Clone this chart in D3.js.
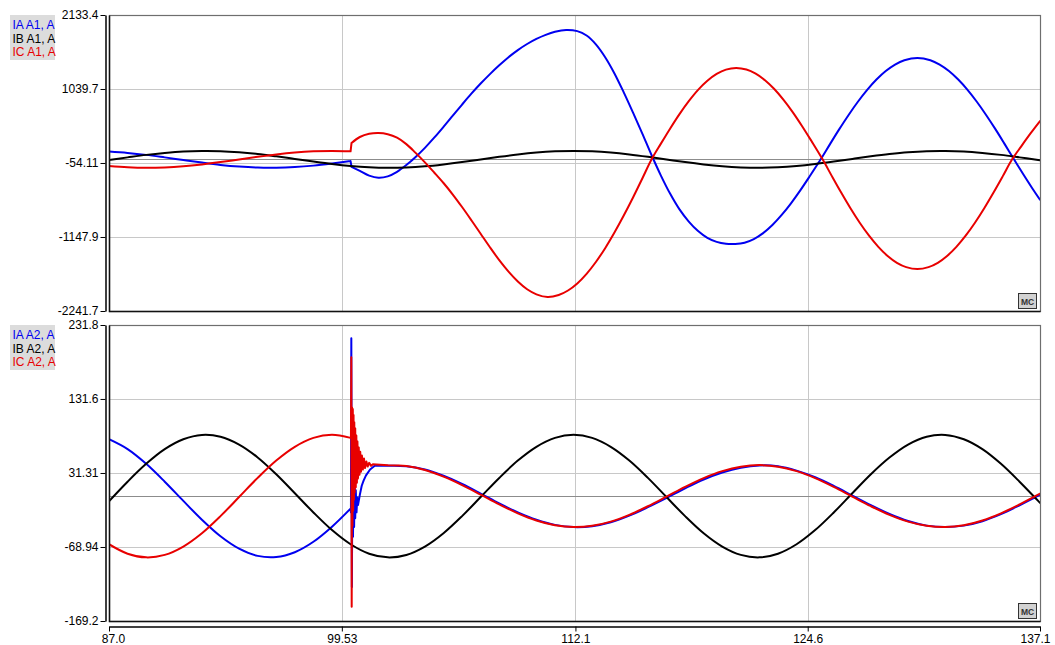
<!DOCTYPE html>
<html>
<head>
<meta charset="utf-8">
<script src="https://cdn.jsdelivr.net/npm/d3@7"></script>
<style>
  body { margin: 0; background: #fff; }
  svg text { font-family: "Liberation Sans", Arial, sans-serif; }
</style>
</head>
<body>
<svg id="chart" width="1055" height="645"></svg>
<script>
// ---- axis ticks ----
var xTicks = [87.0, 99.53, 112.1, 124.6, 137.1];
var xTickLabels = ["87.0", "99.53", "112.1", "124.6", "137.1"];
var yTicksA1 = [2133.4, 1039.7, -54.11, -1147.9, -2241.7];
var yTickLabelsA1 = ["2133.4", "1039.7", "-54.11", "-1147.9", "-2241.7"];
var yTicksA2 = [231.8, 131.6, 31.31, -68.94, -169.2];
var yTickLabelsA2 = ["231.8", "131.6", "31.31", "-68.94", "-169.2"];
var legendA1 = ["IA A1, A", "IB A1, A", "IC A1, A"];
var legendA2 = ["IA A2, A", "IB A2, A", "IC A2, A"];

// ---- A1 currents [ms, A] ----
var iaA1Pre = [[87,116],[88,95],[89,66],[90,29],[91,-10],[92,-48],[93,-82],[94,-107],[95,-122],[96,-124],[97,-114],[98,-93],[99,-62],[100,-26]];
var iaA1Post = [[100.05,-110],[100.5,-170],[101,-240],[101.5,-272],[102,-252],[102.5,-185],[103,-85],[103.5,35],[104,170],[104.5,320],[105,480],[105.5,645],[106,810],[106.5,970],[107,1120],[107.5,1260],[108,1390],[108.5,1510],[109,1615],[109.5,1705],[110,1780],[110.5,1840],[111,1885],[111.6,1912],[112.2,1895],[112.7,1830],[113.2,1700],[113.7,1510],[114.2,1270],[114.7,990],[115.2,690],[115.7,380],[116.2,60],[116.7,-240],[117.2,-510],[117.7,-740],[118.2,-920],[118.7,-1060],[119.2,-1160],[119.7,-1220],[120.2,-1248],[120.7,-1251],[121.2,-1233],[121.7,-1179],[122.2,-1091],[122.7,-971],[123.2,-822],[123.7,-650],[124.2,-459],[124.7,-254],[125.3,0],[125.8,225],[126.3,446],[126.8,656],[127.3,851],[127.8,1027],[128.3,1179],[128.8,1305],[129.3,1401],[129.8,1464],[130.5,1498],[131.2,1465],[131.7,1400],[132.2,1305],[132.7,1179],[133.2,1027],[133.7,851],[134.2,656],[134.7,446],[135.2,225],[135.7,0],[136.2,-220],[136.7,-434],[137.1,-597]];
var ibA1 = [[87,-10],[88,29],[89,66],[90,95],[91,116],[92,124],[93,121],[94,105],[95,79],[96,44],[97,6],[98,-33],[99,-69],[100,-98],[101,-117],[102,-125],[103,-120],[104,-103],[105,-75],[106,-41],[107,-2],[108,37],[109,72],[110,100],[111,118],[112,125],[113,118],[114,100],[115,72],[116,37],[117,-2],[118,-41],[119,-75],[120,-102],[121,-119],[122,-125],[123,-117],[124,-98],[125,-69],[126,-33],[127,6],[128,44],[129,78],[130,105],[131,121],[132,124],[133,116],[134,95],[135,66],[136,29],[137,-10],[137.1,-14]];
var icA1Pre = [[87,-98],[88,-117],[89,-125],[90,-119],[91,-102],[92,-75],[93,-41],[94,-2],[95,37],[96,72],[97,100],[98,118],[99,125],[100,118]];
var icA1Post = [[100.05,240],[100.5,330],[101,378],[101.5,390],[102,372],[102.5,320],[103,225],[103.5,95],[104,-45],[104.5,-195],[105,-350],[105.5,-520],[106,-705],[106.5,-900],[107,-1100],[107.5,-1300],[108,-1490],[108.5,-1660],[109,-1805],[109.5,-1920],[110,-1995],[110.6,-2035],[111.2,-2006],[111.7,-1939],[112.2,-1834],[112.7,-1692],[113.2,-1517],[113.7,-1313],[114.2,-1082],[114.7,-831],[115.2,-564],[115.7,-283],[116.2,0],[116.7,232],[117.2,457],[117.7,669],[118.2,860],[118.7,1027],[119.2,1161],[119.7,1262],[120.2,1326],[120.75,1350],[121.3,1327],[121.8,1266],[122.3,1169],[122.8,1039],[123.3,879],[123.8,695],[124.3,490],[124.8,271],[125.4,0],[125.9,-248],[126.4,-491],[126.9,-723],[127.4,-937],[127.9,-1128],[128.4,-1293],[128.9,-1428],[129.4,-1529],[129.9,-1593],[130.5,-1621],[131.1,-1593],[131.6,-1529],[132.1,-1428],[132.6,-1293],[133.1,-1128],[133.6,-937],[134.1,-723],[134.6,-491],[135.1,-248],[135.6,0],[136.1,196],[136.6,386],[137.1,565]];

// ---- A2 currents [ms, A] ----
var iaA2Pre = [[87,77],[88,63.6],[89,43.7],[90,19.5],[91,-6.5],[92,-32],[93,-54.4],[94,-71.2],[95,-81],[96,-82.6],[97,-76],[98,-61.9],[99,-41.5],[100,-17]];
var iaA2Spike = [[100.02,-22],[100.04,214],[100.07,-123],[100.10,38],[100.13,-55],[100.16,28],[100.19,-42],[100.22,18],[100.25,-30],[100.28,8],[100.32,-22],[100.36,-2],[100.40,-12],[100.5,2],[100.6,14],[100.7,21],[100.83,28],[101.05,36],[101.3,41]];
var iaA2Post = [[102,41],[103,40.5],[104,36],[105,27.5],[106,16.5],[107,3.5],[108,-10],[109,-22],[110,-32],[111,-39],[112,-42],[113,-40.8],[114,-35.5],[115,-26.5],[116,-15],[117,-2.5],[118,10.5],[119,22.5],[120,32],[121,38.5],[122,41.5],[123,40.5],[124,34.5],[125,25.5],[126,13.8],[127,0.8],[128,-12.2],[129,-24.2],[130,-33.8],[131,-40],[132,-42],[133,-40],[134,-34],[135,-24.5],[136,-12.5],[137,0.5],[137.1,2]];
var ibA2 = [[87,-7],[88,19.5],[89,43.7],[90,63.6],[91,77],[92,82.8],[93,80.4],[94,69.8],[95,52.4],[96,29.6],[97,3.9],[98,-22.1],[99,-46],[100,-65.2],[101,-78],[102,-83],[103,-79.7],[104,-68.4],[105,-50.3],[106,-27.1],[107,-1.3],[108,24.6],[109,48.1],[110,66.8],[111,78.9],[112,83],[113,78.9],[114,66.8],[115,48.2],[116,24.7],[117,-1.3],[118,-27.1],[119,-50.3],[120,-68.3],[121,-79.6],[122,-83],[123,-78],[124,-65.2],[125,-46],[126,-22.2],[127,3.9],[128,29.6],[129,52.2],[130,69.8],[131,80.4],[132,82.8],[133,77],[134,63.6],[135,43.7],[136,19.5],[137,-6.5],[137.1,-9.1]];
var icA2Pre = [[87,-65.2],[88,-78],[89,-83],[90,-79.6],[91,-68.3],[92,-50.3],[93,-27.1],[94,-1.3],[95,24.7],[96,48.2],[97,66.8],[98,78.9],[99,83],[100,78.9]];
var icA2Spike = [[100.02,80],[100.04,188],[100.06,-150],[100.08,120],[100.10,-40],[100.12,118],[100.14,-20],[100.16,110],[100.18,-5],[100.20,100],[100.22,5],[100.25,92],[100.28,12],[100.31,82],[100.34,18],[100.37,74],[100.40,24],[100.44,66],[100.48,29],[100.52,60],[100.56,33],[100.61,55],[100.66,36],[100.72,51],[100.78,38],[100.85,47],[100.92,40],[101.0,45],[101.1,41],[101.2,43]];
var icA2Post = [[102,41.9],[103,40.7],[104,35.3],[105,26.4],[106,15],[107,2],[108,-11.2],[109,-23.3],[110,-33],[111,-39.5],[112,-42],[113,-40.3],[114,-34.6],[115,-25.4],[116,-13.7],[117,-0.7],[118,12.5],[119,24.4],[120,33.8],[121,39.9],[122,42],[123,39.9],[124,33.8],[125,24.4],[126,12.5],[127,-0.7],[128,-13.7],[129,-25.4],[130,-34.6],[131,-40.3],[132,-42],[133,-39.5],[134,-33],[135,-23.3],[136,-11.2],[137,2],[137.1,3.3]];

var blue = "#0000f0", red = "#e80000", black = "#000";
var legendColors = [blue, black, red];

var svg = d3.select("#chart");
var x = d3.scaleLinear().domain([87.0, 137.1]).range([109, 1040]);

var panels = [
  {top: 15, bottom: 311, domain: [-2241.7, 2133.4], ticks: yTicksA1, labels: yTickLabelsA1, legend: legendA1,
   series: [{pre: iaA1Pre, post: iaA1Post, color: blue},
            {full: ibA1, color: black},
            {pre: icA1Pre, post: icA1Post, color: red}]},
  {top: 325, bottom: 621, domain: [-169.2, 231.8], ticks: yTicksA2, labels: yTickLabelsA2, legend: legendA2,
   series: [{pre: iaA2Pre, spike: iaA2Spike, post: iaA2Post, color: blue},
            {full: ibA2, color: black},
            {pre: icA2Pre, spike: icA2Spike, post: icA2Post, color: red}]}
];

panels.forEach(function(p, pi) {
  var y = d3.scaleLinear().domain(p.domain).range([p.bottom, p.top]);
  var g = svg.append("g");
  var left = x.range()[0], right = x.range()[1];

  // grid
  g.append("g").selectAll("line")
    .data(p.ticks.slice(1, -1)).enter().append("line")
    .attr("x1", left).attr("x2", right)
    .attr("y1", d => Math.round(y(d)) + 0.5).attr("y2", d => Math.round(y(d)) + 0.5)
    .attr("stroke", "#c8c8c8");
  g.append("g").selectAll("line")
    .data(xTicks.slice(1, -1)).enter().append("line")
    .attr("x1", d => Math.round(x(d)) + 0.5).attr("x2", d => Math.round(x(d)) + 0.5)
    .attr("y1", p.top).attr("y2", p.bottom)
    .attr("stroke", "#c8c8c8");
  // zero line
  g.append("line")
    .attr("x1", left).attr("x2", right)
    .attr("y1", Math.round(y(0)) + 0.5).attr("y2", Math.round(y(0)) + 0.5)
    .attr("stroke", "#8c8c8c");

  // traces
  var clipId = "clip" + pi;
  svg.append("clipPath").attr("id", clipId).append("rect")
    .attr("x", left).attr("y", p.top).attr("width", right - left).attr("height", p.bottom - p.top);
  var smooth = d3.line().x(d => x(d[0])).y(d => y(d[1])).curve(d3.curveCatmullRom.alpha(0.5));
  var straight = d3.line().x(d => x(d[0])).y(d => y(d[1]));
  var traces = g.append("g").attr("clip-path", "url(#" + clipId + ")")
    .attr("fill", "none").attr("stroke-width", 2)
    .attr("stroke-linejoin", "round").attr("stroke-linecap", "round");
  p.series.forEach(function(s) {
    var d;
    if (s.full) d = smooth(s.full);
    else {
      var link = [s.pre[s.pre.length - 1]].concat(s.spike || [], [s.post[0]]);
      d = smooth(s.pre) + straight(link) + smooth(s.post);
    }
    traces.append("path").attr("d", d).attr("stroke", s.color);
  });

  // frame
  g.append("rect")
    .attr("x", left + 0.5).attr("y", p.top + 0.5)
    .attr("width", right - left).attr("height", p.bottom - p.top)
    .attr("fill", "none").attr("stroke", "#6e6e6e").attr("stroke-width", 1.2);
  g.append("path")
    .attr("d", "M" + (left + 0.5) + "," + (p.top + 0.5) + "V" + (p.bottom + 0.5) + "H" + (right + 0.5))
    .attr("fill", "none").attr("stroke", "#111").attr("stroke-width", 1.5);

  // y axis
  var ax = g.append("g").attr("transform", "translate(105.5,0)")
    .call(d3.axisLeft(y).tickValues(p.ticks).tickFormat((d, i) => p.labels[i])
      .tickSize(5).tickSizeOuter(0).tickPadding(2));
  ax.attr("font-size", 12).attr("font-family", "Liberation Sans, Arial, sans-serif");
  ax.select(".domain").attr("stroke-width", 1.5);

  // legend
  var lg = g.append("g").attr("transform", "translate(10," + p.top + ")");
  lg.append("rect").attr("width", 45).attr("height", 45).attr("fill", "#dcdcdc");
  lg.selectAll("text").data(p.legend).enter().append("text")
    .attr("x", 2.5).attr("y", (d, i) => 14 + i * 13.5)
    .attr("font-size", 12).attr("fill", (d, i) => legendColors[i])
    .text(d => d);

  // MC badge
  var mc = g.append("g").attr("transform", "translate(" + (right - 22) + "," + (p.bottom - 18) + ")");
  mc.append("rect").attr("x", 0.5).attr("y", 0.5).attr("width", 18).attr("height", 15)
    .attr("fill", "#d2d2d2").attr("stroke", "#333");
  mc.append("text").attr("x", 9.5).attr("y", 11.5).attr("text-anchor", "middle")
    .attr("font-size", 8.5).attr("font-weight", "bold").attr("fill", "#333").text("MC");
});

// x axis
var xa = svg.append("g").attr("transform", "translate(0,626.5)")
  .call(d3.axisBottom(x).tickValues(xTicks).tickFormat((d, i) => xTickLabels[i])
    .tickSize(5).tickSizeOuter(0).tickPadding(3));
xa.attr("font-size", 12).attr("font-family", "Liberation Sans, Arial, sans-serif");
xa.select(".domain").attr("stroke-width", 1.5);
xa.selectAll(".tick text").attr("dx", (d, i) => i === 0 ? 4 : (i === xTicks.length - 1 ? -5 : 0));
</script>
</body>
</html>
